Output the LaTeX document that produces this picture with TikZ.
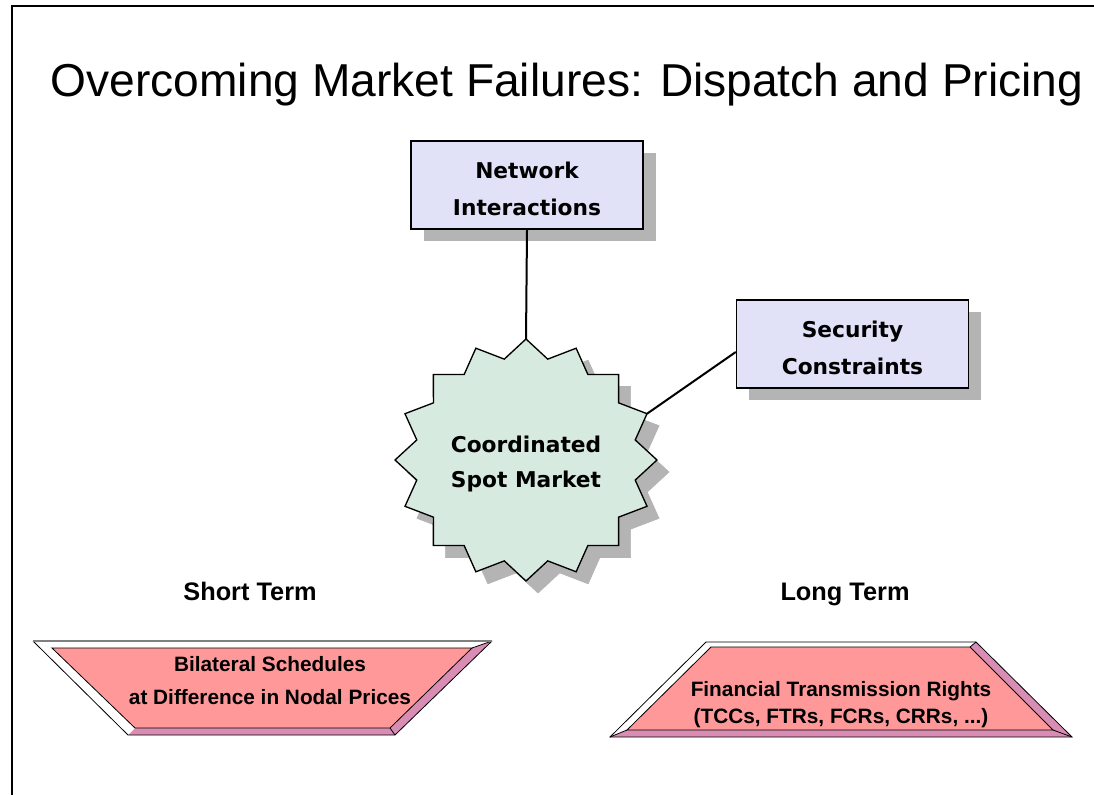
\documentclass[tikz,border=0pt]{standalone}
\usepackage{fontspec}
\setmainfont{Liberation Sans}
\newfontfamily\humanist{DejaVu Sans}
\usetikzlibrary{calc,shadows}

\definecolor{boxfill}{HTML}{E1E1F7}
\definecolor{starfill}{HTML}{D6EADF}
\definecolor{shade}{HTML}{B4B4B4}
\definecolor{face}{HTML}{FF9999}
\definecolor{bevel}{HTML}{D98DB4}

\begin{document}
\begin{tikzpicture}[x=0.75pt,y=-0.75pt,
  every node/.style={inner sep=0pt},
  infobox/.style={draw=black, line width=1.1pt, fill=boxfill,
    minimum width=174pt, minimum height=66pt,
    drop shadow={shadow xshift=9.5pt, shadow yshift=-9pt, opacity=1, fill=shade}},
  boxtext/.style={align=center, font=\humanist\bfseries\fontsize{16.3}{27.75}\selectfont},
  link/.style={line width=1.5pt},
  startext/.style={align=center, font=\humanist\bfseries\fontsize{16.3}{26.25}\selectfont},
  termlabel/.style={anchor=base, font=\bfseries\fontsize{19}{22}\selectfont},
  traptext/.style={align=center, font=\bfseries\fontsize{15.6}{24.75}\selectfont},
  edge/.style={draw=black, line width=0.6pt}
]
\useasboundingbox (0,0) rectangle (1094,795);

% page frame
\draw[line width=1.6pt] (12,795) -- (12,6) -- (1094,6);

% title
\node[anchor=base, font=\fontsize{34.6}{40}\selectfont] (title) at (567,97)
  {Overcoming Market Failures: Dispatch and Pricing};

% boxes with their labels
\node[infobox] (net) at (527,185) {};
\node[boxtext] (netlabel) at (527,189) {Network\\Interactions};
\node[infobox] (sec) at (852.5,344) {};
\node[boxtext] (seclabel) at (852.5,348) {Security\\Constraints};

% sixteen-point star: corner points of the body (s) and of its shadow (h)
\foreach \k in {0,...,31} {
  \pgfmathsetmacro{\rr}{1-0.15*mod(\k,2)}
  \coordinate (s\k) at ({526+131*\rr*cos(90+11.25*\k)},{460+121*\rr*sin(90+11.25*\k)});
  \coordinate (h\k) at ({538+131*\rr*cos(90+11.25*\k)},{472+121*\rr*sin(90+11.25*\k)});
}
\filldraw[fill=shade, draw=shade, line width=0.5pt]
  (h0) \foreach \k in {1,...,31} { -- (h\k) } -- cycle;
\filldraw[fill=starfill, draw=black, line width=1pt, line join=miter]
  (s0) \foreach \k in {1,...,31} { -- (s\k) } -- cycle;
\node[startext] (spot) at (526,464) {Coordinated\\Spot Market};

% connectors: star top point s16 and north-east point s22
\draw[link] (net.south) -- (s16);
\draw[link] (s22) -- ($(sec.west)+(0,8)$);

% term headings
\node[termlabel] (short) at (250,600) {Short Term};
\node[termlabel] (long) at (845,600) {Long Term};

% left bevelled trapezoid
\coordinate (lA) at (33,641);  \coordinate (lB) at (492,641);
\coordinate (lC) at (395,735); \coordinate (lD) at (128,735);
\coordinate (la) at (52,648);  \coordinate (lb) at (472,648);
\coordinate (lc) at (390,728); \coordinate (ld) at (135,728);
\fill[bevel] (lA) -- (lB) -- (lC) -- (lD) -- cycle;
\fill[white] (lA) -- (lB) -- (lb) -- (la) -- cycle;
\fill[white] (lA) -- (la) -- (ld) -- (lD) -- cycle;
\filldraw[fill=face, edge] (la) -- (lb) -- (lc) -- (ld) -- cycle;
\draw[edge] (lA) -- (lD) -- (lC) -- (lB);
\draw[edge] (lb) -- (lB) (lc) -- (lC);
\draw[line width=1.4pt, draw=gray] (lA) -- (lB);
\node[traptext] (bilat) at (270,681) {Bilateral Schedules\\at Difference in Nodal Prices};

% right bevelled trapezoid
\coordinate (rA) at (706,642);  \coordinate (rB) at (976,642);
\coordinate (rC) at (1072,737); \coordinate (rD) at (610,737);
\coordinate (ra) at (711,647);  \coordinate (rb) at (970,647);
\coordinate (rc) at (1053,730); \coordinate (rd) at (627,730);
\fill[bevel] (rA) -- (rB) -- (rC) -- (rD) -- cycle;
\fill[white] (rA) -- (rB) -- (rb) -- (ra) -- cycle;
\fill[white] (rA) -- (ra) -- (rd) -- (rD) -- cycle;
\filldraw[fill=face, edge] (ra) -- (rb) -- (rc) -- (rd) -- cycle;
\draw[edge] (rA) -- (rB) -- (rC) -- (rD) -- cycle;
\draw[edge] (rb) -- (rB) (rc) -- (rC) (rd) -- (rD);
\node[traptext, font=\bfseries\fontsize{15.6}{20.25}\selectfont] (ftr) at (841,705)
  {Financial Transmission Rights\\(TCCs, FTRs, FCRs, CRRs, ...)};
\end{tikzpicture}
\end{document}
